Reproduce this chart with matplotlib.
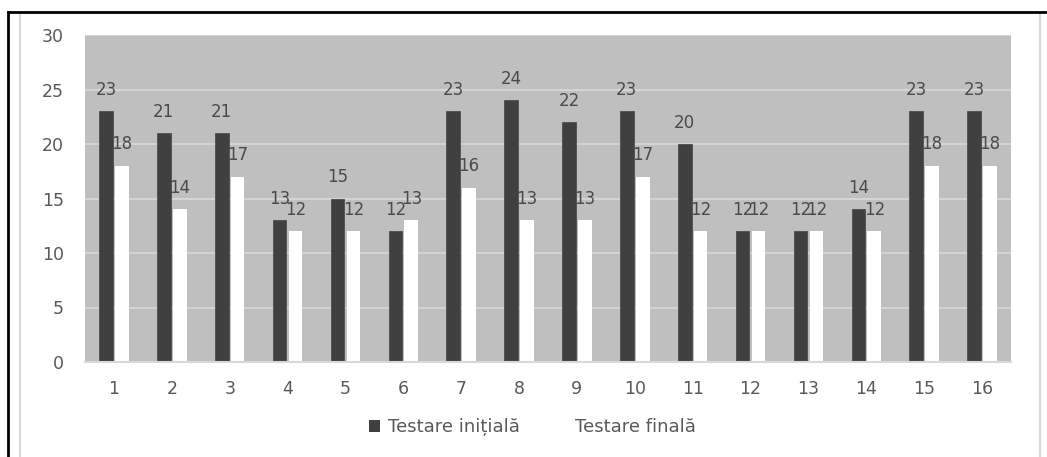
import matplotlib.pyplot as plt
import numpy as np
from matplotlib.lines import Line2D
from matplotlib.patches import Patch

# Scores per participant, initial and final testing
participants = [str(i) for i in range(1, 17)]
initial = [23, 21, 21, 13, 15, 12, 23, 24, 22, 23, 20, 12, 12, 14, 23, 23]
final = [18, 14, 17, 12, 12, 13, 16, 13, 13, 17, 12, 12, 12, 12, 18, 18]
series_names = ["Testare inițială", "Testare finală"]

plt.rcParams['font.family'] = ['DejaVu Sans']
text_color = '#595959'

W, H = 1047, 457
fig = plt.figure(figsize=(W / 100, H / 100), dpi=100)
ax = fig.add_axes([85 / W, 1 - 362 / H, (1011 - 85) / W, (362 - 35) / H])
ax.set_facecolor('#BFBFBF')

x = np.arange(len(participants))
bw = 0.235
off = 0.138
b1 = ax.bar(x - off, initial, bw, color='#404040', edgecolor='#4d4d4d', linewidth=0.6, zorder=3)
b2 = ax.bar(x + off, final, bw, color='white', zorder=3)

for bars, vals in ((b1, initial), (b2, final)):
    for rect, v in zip(bars, vals):
        ax.annotate(str(v), (rect.get_x() + rect.get_width() / 2, v),
                    xytext=(0, 9), textcoords='offset points',
                    ha='center', va='bottom', fontsize=12, color='#4a4a4a', zorder=4)

ax.set_xlim(-0.5, len(participants) - 0.5)
ax.set_ylim(0, 30)
ax.set_yticks(range(0, 31, 5))
ax.set_xticks(x)
ax.set_xticklabels(participants)
ax.yaxis.grid(True, color='#D9D9D9', linewidth=1.2, zorder=1)
ax.set_axisbelow(True)
for s in ['top', 'right', 'left']:
    ax.spines[s].set_visible(False)
ax.spines['bottom'].set_color('#D9D9D9')
ax.spines['bottom'].set_linewidth(1.5)
ax.spines['bottom'].set_zorder(5)
ax.tick_params(axis='both', length=0, labelsize=12.5, colors=text_color)
ax.tick_params(axis='y', pad=15)
ax.tick_params(axis='x', pad=13)

handles = [Patch(facecolor='#404040', edgecolor='none'),
           Patch(facecolor='white', edgecolor='none')]
fig.legend(handles, series_names, loc='center', bbox_to_anchor=(532 / W, 1 - 427 / H),
           ncol=2, frameon=False, fontsize=13, labelcolor=text_color,
           handlelength=0.65, handleheight=0.65, handletextpad=0.45, columnspacing=1.9)

# outer frame: heavy black top/left, thin gray chart border
def fline(x0, y0, x1, y1, **kw):
    fig.add_artist(Line2D([x0 / W, x1 / W], [1 - y0 / H, 1 - y1 / H],
                          transform=fig.transFigure, **kw))

fline(20, 13, 20, H, color='#D9D9D9', linewidth=1.5)
fline(1040, 13, 1040, H, color='#D9D9D9', linewidth=1.5)
fline(8, 12, W, 12, color='black', linewidth=2)
fline(8, 12, 8, H, color='black', linewidth=2)

fig.savefig('out.png', dpi=100)
